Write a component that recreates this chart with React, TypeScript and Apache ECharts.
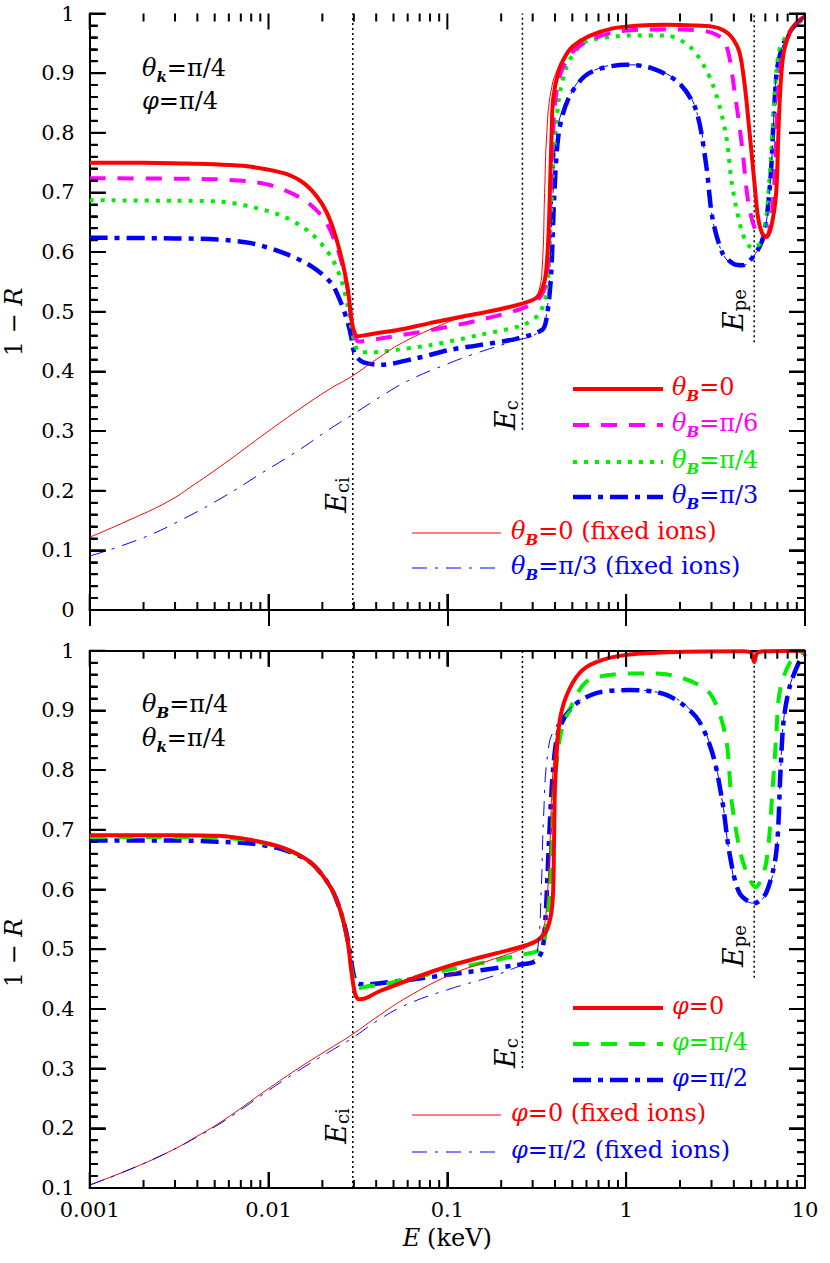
import React, { useEffect, useRef } from "react";
import * as echarts from "echarts";

type P = [number, number];

// ---------- axis scaffolding ----------
const xMin = 0.001;
const xMax = 10;
const topYMin = 0;
const botYMin = 0.1;
const yMax = 1;
const yStep = 0.1;
const majorTickE = [0.001, 0.01, 0.1, 1, 10];
const minorTickE = [
  0.002, 0.003, 0.004, 0.005, 0.006, 0.007, 0.008, 0.009,
  0.02, 0.03, 0.04, 0.05, 0.06, 0.07, 0.08, 0.09,
  0.2, 0.3, 0.4, 0.5, 0.6, 0.7, 0.8, 0.9,
  2, 3, 4, 5, 6, 7, 8, 9,
];
const yMinorStep = 0.02;

// characteristic energies (keV) and the lower ends of their marker lines
const eCi = 0.0296;
const eC = 0.263;
const ePe = 5.2;
const topEcEnd = 0.302;
const topEpeEnd = 0.449;
const botEcEnd = 0.301;
const botEpeEnd = 0.452;

// ---------- top panel (theta_k = pi/4, phi = pi/4) ----------
const topThB0: P[] = [
  [0.001, 0.750], [0.002, 0.750], [0.004, 0.748], [0.006, 0.746], [0.008, 0.743],
  [0.0123, 0.732], [0.015, 0.720], [0.0174, 0.704], [0.020, 0.680], [0.0224, 0.649],
  [0.0255, 0.592], [0.0278, 0.536], [0.029, 0.490], [0.030, 0.468], [0.0315, 0.459],
  [0.0336, 0.460], [0.040, 0.464], [0.052, 0.469], [0.080, 0.481], [0.122, 0.492],
  [0.188, 0.503], [0.265, 0.514], [0.314, 0.523], [0.340, 0.539], [0.356, 0.565],
  [0.368, 0.630], [0.376, 0.720], [0.383, 0.800], [0.39, 0.855], [0.42, 0.905],
  [0.46, 0.930], [0.503, 0.945], [0.62, 0.962], [0.84, 0.975], [1.2, 0.980],
  [1.68, 0.981], [2.4, 0.980], [3.03, 0.978], [3.5, 0.972], [3.9, 0.960],
  [4.3, 0.935], [4.6, 0.880], [4.9, 0.800], [5.2, 0.720], [5.45, 0.660],
  [5.75, 0.632], [6.07, 0.625], [6.5, 0.645], [6.9, 0.700], [7.1, 0.800],
  [7.3, 0.880], [7.6, 0.935], [8.2, 0.968], [9.0, 0.985], [10, 0.995],
];
const topThB30: P[] = [
  [0.001, 0.724], [0.003, 0.723], [0.0052, 0.722], [0.008, 0.718], [0.0108, 0.710],
  [0.0159, 0.687], [0.0206, 0.654], [0.0245, 0.603], [0.0278, 0.536], [0.029, 0.490],
  [0.0305, 0.458], [0.032, 0.450], [0.036, 0.452], [0.042, 0.455], [0.080, 0.469],
  [0.151, 0.486], [0.265, 0.506], [0.327, 0.523], [0.356, 0.548], [0.368, 0.600],
  [0.38, 0.720], [0.39, 0.800], [0.40, 0.850], [0.43, 0.900], [0.50, 0.935],
  [0.62, 0.955], [0.84, 0.968], [1.2, 0.973], [2.0, 0.973], [3.0, 0.968],
  [3.6, 0.950], [4.1, 0.855], [4.47, 0.771], [4.8, 0.687], [5.3, 0.637],
  [6.06, 0.625], [6.5, 0.660], [6.8, 0.740], [7.0, 0.840], [7.3, 0.910],
  [8.0, 0.960], [9.0, 0.985], [10, 0.995],
];
const topThB45: P[] = [
  [0.001, 0.687], [0.003, 0.686], [0.0052, 0.685], [0.008, 0.676], [0.0123, 0.659],
  [0.0174, 0.631], [0.0224, 0.592], [0.0255, 0.553], [0.0278, 0.508], [0.029, 0.475],
  [0.0305, 0.445], [0.032, 0.433], [0.036, 0.432], [0.042, 0.433], [0.080, 0.444],
  [0.151, 0.461], [0.265, 0.478], [0.327, 0.497], [0.36, 0.536], [0.375, 0.620],
  [0.39, 0.740], [0.42, 0.855], [0.47, 0.915], [0.55, 0.945], [0.62, 0.955],
  [1.04, 0.963], [1.68, 0.963], [2.35, 0.940], [3.03, 0.883], [3.6, 0.800],
  [3.9, 0.715], [4.47, 0.632], [5.07, 0.607], [5.8, 0.620], [6.3, 0.715],
  [6.7, 0.838], [7.2, 0.940], [8.5, 0.975], [10, 0.995],
];
const topThB60: P[] = [
  [0.001, 0.624], [0.003, 0.623], [0.0052, 0.621], [0.008, 0.615], [0.0123, 0.598],
  [0.0174, 0.576], [0.0224, 0.548], [0.0255, 0.514], [0.0278, 0.481], [0.029, 0.458],
  [0.0296, 0.440], [0.031, 0.425], [0.034, 0.415], [0.042, 0.411], [0.067, 0.422],
  [0.103, 0.436], [0.151, 0.444], [0.245, 0.455], [0.34, 0.470], [0.36, 0.492],
  [0.38, 0.560], [0.395, 0.687], [0.42, 0.800], [0.48, 0.860], [0.62, 0.900],
  [1.0, 0.914], [1.4, 0.908], [1.98, 0.883], [2.46, 0.838], [2.81, 0.743],
  [3.03, 0.659], [3.46, 0.598], [4.0, 0.580], [4.47, 0.578], [5.3, 0.598],
  [5.9, 0.630], [6.4, 0.720], [6.7, 0.830], [7.0, 0.910], [7.6, 0.950],
  [8.5, 0.975], [10, 0.995],
];
const topThB0Fixed: P[] = [
  [0.001, 0.122], [0.00164, 0.150], [0.00275, 0.182], [0.00387, 0.211], [0.0057, 0.246],
  [0.0091, 0.291], [0.0146, 0.335], [0.0224, 0.372], [0.029, 0.391], [0.040, 0.420],
  [0.056, 0.448], [0.098, 0.481], [0.122, 0.490], [0.188, 0.502], [0.265, 0.513],
  [0.30, 0.520], [0.325, 0.535], [0.34, 0.580], [0.35, 0.700], [0.36, 0.800],
  [0.38, 0.870], [0.42, 0.910], [0.50, 0.940], [0.62, 0.962], [0.84, 0.975],
  [1.2, 0.980], [1.68, 0.981], [2.4, 0.980], [3.03, 0.978], [3.5, 0.972],
  [3.9, 0.960], [4.3, 0.935], [4.6, 0.880], [4.9, 0.800], [5.2, 0.720],
  [5.45, 0.660], [5.75, 0.632], [6.07, 0.625], [6.5, 0.645], [6.9, 0.700],
  [7.1, 0.800], [7.3, 0.880], [7.6, 0.935], [8.2, 0.968], [9.0, 0.985], [10, 0.995],
];
const topThB60Fixed: P[] = [
  [0.001, 0.0905], [0.00195, 0.120], [0.0034, 0.154], [0.0057, 0.191], [0.0091, 0.229],
  [0.0146, 0.267], [0.0224, 0.305], [0.029, 0.326], [0.042, 0.357], [0.060, 0.384],
  [0.103, 0.414], [0.150, 0.432], [0.23, 0.450], [0.327, 0.467], [0.36, 0.500],
  [0.375, 0.580], [0.39, 0.700], [0.41, 0.800], [0.48, 0.860], [0.62, 0.900],
  [1.0, 0.914], [1.4, 0.908], [1.98, 0.883], [2.46, 0.838], [2.81, 0.743],
  [3.03, 0.659], [3.46, 0.598], [4.0, 0.580], [4.47, 0.578], [5.3, 0.598],
  [5.9, 0.630], [6.4, 0.720], [6.7, 0.830], [7.0, 0.910], [7.6, 0.950],
  [8.5, 0.975], [10, 0.995],
];

// ---------- bottom panel (theta_B = pi/4, theta_k = pi/4) ----------
const botPhi0: P[] = [
  [0.001, 0.691], [0.003, 0.691], [0.0052, 0.690], [0.008, 0.683], [0.0123, 0.669],
  [0.0174, 0.644], [0.0224, 0.602], [0.0255, 0.560], [0.0278, 0.510], [0.029, 0.465],
  [0.0305, 0.425], [0.032, 0.416], [0.035, 0.418], [0.042, 0.430], [0.10, 0.471],
  [0.265, 0.505], [0.32, 0.515], [0.36, 0.532], [0.387, 0.577], [0.395, 0.680],
  [0.40, 0.772], [0.42, 0.872], [0.46, 0.922], [0.55, 0.963], [0.68, 0.981],
  [1.0, 0.993], [2.0, 0.998], [4.5, 0.999], [5.0, 0.996], [5.2, 0.981],
  [5.4, 0.996], [6.0, 0.999], [10, 1.0],
];
const botPhi45: P[] = [
  [0.001, 0.688], [0.003, 0.688], [0.0052, 0.687], [0.008, 0.682], [0.0123, 0.668],
  [0.0174, 0.644], [0.0224, 0.602], [0.0255, 0.560], [0.0278, 0.510], [0.029, 0.470],
  [0.0305, 0.440], [0.032, 0.435], [0.036, 0.438], [0.042, 0.440], [0.10, 0.465],
  [0.25, 0.490], [0.33, 0.500], [0.36, 0.540], [0.38, 0.650], [0.40, 0.780],
  [0.43, 0.860], [0.48, 0.900], [0.62, 0.951], [1.3, 0.962], [1.98, 0.956],
  [2.93, 0.929], [3.6, 0.856], [3.9, 0.745], [4.47, 0.649], [5.3, 0.604],
  [6.06, 0.644], [6.6, 0.772], [6.9, 0.856], [7.2, 0.929], [8.2, 0.979], [10, 1.0],
];
const botPhi90: P[] = [
  [0.001, 0.682], [0.003, 0.682], [0.0052, 0.680], [0.008, 0.677], [0.0123, 0.666],
  [0.0174, 0.644], [0.0224, 0.602], [0.0255, 0.560], [0.0278, 0.515], [0.029, 0.480],
  [0.0305, 0.448], [0.032, 0.442], [0.036, 0.441], [0.042, 0.443], [0.10, 0.457],
  [0.25, 0.474], [0.31, 0.480], [0.34, 0.500], [0.355, 0.560], [0.37, 0.680],
  [0.39, 0.800], [0.42, 0.867], [0.50, 0.906], [0.68, 0.929], [1.04, 0.934],
  [1.68, 0.926], [2.46, 0.889], [3.03, 0.829], [3.46, 0.745], [3.78, 0.661],
  [4.3, 0.594], [5.2, 0.577], [6.06, 0.594], [6.9, 0.661], [7.3, 0.800],
  [7.6, 0.884], [8.2, 0.939], [9.2, 0.979], [10, 0.995],
];
const botPhi0Fixed: P[] = [
  [0.001, 0.105], [0.00164, 0.130], [0.00275, 0.160], [0.0039, 0.185], [0.0057, 0.215],
  [0.0091, 0.258], [0.0146, 0.300], [0.0224, 0.335], [0.029, 0.356], [0.042, 0.390],
  [0.060, 0.420], [0.10, 0.455], [0.15, 0.475], [0.25, 0.498], [0.30, 0.510],
  [0.34, 0.530], [0.36, 0.580], [0.375, 0.680], [0.39, 0.800], [0.42, 0.880],
  [0.46, 0.925], [0.55, 0.963], [0.68, 0.981], [1.0, 0.993], [2.0, 0.998],
  [4.5, 0.999], [5.0, 0.996], [5.2, 0.981], [5.4, 0.996], [6.0, 0.999], [10, 1.0],
];
const botPhi90Fixed: P[] = [
  [0.001, 0.105], [0.00164, 0.130], [0.00275, 0.160], [0.0039, 0.184], [0.0057, 0.213],
  [0.0091, 0.255], [0.0146, 0.296], [0.0224, 0.330], [0.029, 0.350], [0.042, 0.383],
  [0.060, 0.408], [0.10, 0.432], [0.18, 0.455], [0.25, 0.471], [0.30, 0.480],
  [0.32, 0.500], [0.335, 0.600], [0.345, 0.720], [0.365, 0.830], [0.40, 0.870],
  [0.50, 0.906], [0.68, 0.929], [1.04, 0.934], [1.68, 0.926], [2.46, 0.889],
  [3.03, 0.829], [3.46, 0.745], [3.78, 0.661], [4.3, 0.594], [5.2, 0.577],
  [6.06, 0.594], [6.9, 0.661], [7.3, 0.800], [7.6, 0.884], [8.2, 0.939],
  [9.2, 0.979], [10, 0.995],
];

// ---------- styles ----------
const FONT = "DejaVu Serif";
const RED = "#ff0000";
const MAGENTA = "#ff00ff";
const GREEN = "#00ee00";
const BLUE = "#0000ff";
const THICK = 4;
const DASH = [16, 12];
const DOT = [4, 7];
const DASHDOT = [18, 7, 5, 7];
const THIN_DASHDOT = [15, 8, 3, 8];
const VDOT = [2, 3];

const G_LEFT = 89.7;
const G_WIDTH = 715.3;
const G0_TOP = 13.5;
const G0_H = 596.5;
const G1_TOP = 650.7;
const G1_H = 537.3;
const MAJOR_PX = 16;
const MINOR_PX = 8;

// one compound tick path per panel, on the same log / linear scales as the grid
function ticksPath(top: number, h: number, lo: number): string {
  const lx0 = Math.log10(xMin);
  const lx1 = Math.log10(xMax);
  const xp = (e: number) => G_LEFT + (G_WIDTH * (Math.log10(e) - lx0)) / (lx1 - lx0);
  const yp = (v: number) => top + h - (h * (v - lo)) / (yMax - lo);
  const bottom = top + h;
  const left = G_LEFT;
  const right = G_LEFT + G_WIDTH;
  const f = (n: number) => n.toFixed(2);
  let d = "";
  const xTick = (e: number, len: number) => {
    const x = xp(e);
    d += `M${f(x)} ${f(bottom)}L${f(x)} ${f(bottom - len)}`;
    d += `M${f(x)} ${f(top)}L${f(x)} ${f(top + len)}`;
  };
  majorTickE.forEach((e) => xTick(e, MAJOR_PX));
  minorTickE.forEach((e) => xTick(e, MINOR_PX));
  const n = Math.round((yMax - lo) / yMinorStep);
  const per = Math.round(yStep / yMinorStep);
  for (let k = 0; k <= n; k++) {
    const y = yp(lo + k * yMinorStep);
    const len = k % per === 0 ? MAJOR_PX : MINOR_PX;
    d += `M${f(left)} ${f(y)}L${f(left + len)} ${f(y)}`;
    d += `M${f(right)} ${f(y)}L${f(right - len)} ${f(y)}`;
  }
  return d;
}

echarts.graphic.registerShape("ticksTopPanel", echarts.graphic.extendPath(ticksPath(G0_TOP, G0_H, topYMin), {}) as any);
echarts.graphic.registerShape("ticksBottomPanel", echarts.graphic.extendPath(ticksPath(G1_TOP, G1_H, botYMin), {}) as any);

function rich(color: string, size = 24, sub = 15) {
  return {
    i: { fill: color, fontFamily: FONT, fontStyle: "italic", fontSize: size, lineHeight: 28, verticalAlign: "top" },
    n: { fill: color, fontFamily: FONT, fontSize: size, lineHeight: 28, verticalAlign: "top" },
    s: { fill: color, fontFamily: FONT, fontStyle: "italic", fontWeight: "bold", fontSize: sub, lineHeight: sub + 1, verticalAlign: "bottom" },
    u: { fill: color, fontFamily: FONT, fontSize: sub, lineHeight: sub + 1, verticalAlign: "bottom" },
  };
}

function label(text: string, color: string, x: number, y: number, size = 24): any {
  return {
    type: "text",
    x,
    y,
    silent: true,
    style: { text, rich: rich(color, size), align: "left", verticalAlign: "middle", fill: color },
  };
}

function vlabel(text: string, x: number, y: number): any {
  return {
    type: "text",
    x,
    y,
    rotation: Math.PI / 2,
    silent: true,
    style: { text, rich: rich("#000", 27, 18), align: "center", verticalAlign: "middle", fill: "#000" },
  };
}

function seg(x1: number, y1: number, x2: number, y2: number, color: string, width: number, dash: number[] | null = null): any {
  const style: any = { stroke: color, lineWidth: width };
  if (dash) style.lineDash = dash;
  return { type: "line", silent: true, z: 50, shape: { x1, y1, x2, y2 }, style };
}

function lineSeries(data: P[], xi: number, yi: number, color: string, width: number, dash: number[] | "solid", z: number, smooth = 0.3): any {
  return {
    type: "line",
    xAxisIndex: xi,
    yAxisIndex: yi,
    data,
    showSymbol: false,
    symbol: "none",
    smooth,
    z,
    silent: true,
    lineStyle: { color, width, type: dash },
  };
}

function vline(e: number, lo: number, hi: number, xi: number, yi: number): any {
  return {
    type: "line",
    xAxisIndex: xi,
    yAxisIndex: yi,
    data: [[e, lo], [e, hi]],
    showSymbol: false,
    symbol: "none",
    z: 1,
    silent: true,
    lineStyle: { color: "#000", width: 1.5, type: VDOT },
  };
}

const fmt = (v: number) => String(parseFloat(Number(v).toPrecision(6)));

function xAxis(gridIndex: number, position: "top" | "bottom", showLabel: boolean, name?: any): any {
  return {
    type: "log",
    gridIndex,
    position,
    min: xMin,
    max: xMax,
    axisLine: { show: true, lineStyle: { color: "#000", width: 2 } },
    axisTick: { show: true, inside: true, length: MAJOR_PX, lineStyle: { color: "#000", width: 2 } },
    splitLine: { show: false },
    axisLabel: { show: showLabel, margin: 11, color: "#000", fontFamily: FONT, fontSize: 21, formatter: fmt },
    ...(name || {}),
  };
}

function yAxis(gridIndex: number, position: "left" | "right", min: number, showLabel: boolean): any {
  return {
    type: "value",
    gridIndex,
    position,
    min,
    max: yMax,
    interval: yStep,
    axisLine: { show: true, lineStyle: { color: "#000", width: 2 } },
    axisTick: { show: true, inside: true, length: MAJOR_PX, lineStyle: { color: "#000", width: 2 } },
    minorTick: { show: true, splitNumber: 5, length: MINOR_PX, lineStyle: { color: "#000", width: 2 } },
    splitLine: { show: false },
    axisLabel: { show: showLabel, margin: 15, color: "#000", fontFamily: FONT, fontSize: 21, formatter: fmt },
  };
}

export default function App() {
  const ref = useRef<HTMLDivElement>(null);

  useEffect(() => {
    document.body.style.margin = "0";
    if (!ref.current) return;
    const chart = echarts.init(ref.current, undefined, { renderer: "svg" });

    const xName = {
      name: "{i|E}  {n|(keV)}",
      nameLocation: "middle",
      nameGap: 38,
      nameTextStyle: {
        rich: {
          i: { fontFamily: FONT, fontStyle: "italic", fontSize: 24, color: "#000" },
          n: { fontFamily: FONT, fontSize: 24, color: "#000" },
        },
      },
    };

    const tickStyle = { stroke: "#000", lineWidth: 2, fill: "none" };

    const graphics: any[] = [
      { type: "ticksTopPanel", x: 0, y: 0, z: 60, silent: true, style: tickStyle },
      { type: "ticksBottomPanel", x: 0, y: 0, z: 60, silent: true, style: tickStyle },
      {
        type: "text", x: 16, y: 322, rotation: Math.PI / 2, silent: true,
        style: { text: "{n|1 − }{i|R}", rich: rich("#000", 24), align: "center", verticalAlign: "middle" },
      },
      {
        type: "text", x: 16, y: 953, rotation: Math.PI / 2, silent: true,
        style: { text: "{n|1 − }{i|R}", rich: rich("#000", 24), align: "center", verticalAlign: "middle" },
      },
      label("{i|θ}{s|k}{n|=π/4}", "#000", 142, 70),
      label("{i|φ}{n|=π/4}", "#000", 142, 103),
      label("{i|θ}{s|B}{n|=π/4}", "#000", 142, 706),
      label("{i|θ}{s|k}{n|=π/4}", "#000", 142, 740),
      vlabel("{i|E}{u|ci}", 337, 495),
      vlabel("{i|E}{u|c}", 506, 415),
      vlabel("{i|E}{u|pe}", 734, 310),
      vlabel("{i|E}{u|ci}", 337, 1126),
      vlabel("{i|E}{u|c}", 506, 1053),
      vlabel("{i|E}{u|pe}", 734, 946),
      seg(573, 389, 663, 389, RED, THICK),
      label("{i|θ}{s|B}{n|=0}", RED, 672, 389),
      seg(573, 425, 663, 425, MAGENTA, THICK, DASH),
      label("{i|θ}{s|B}{n|=π/6}", MAGENTA, 672, 425),
      seg(573, 462, 663, 462, GREEN, THICK, DOT),
      label("{i|θ}{s|B}{n|=π/4}", GREEN, 672, 462),
      seg(573, 497, 663, 497, BLUE, THICK + 0.5, DASHDOT),
      label("{i|θ}{s|B}{n|=π/3}", BLUE, 672, 497),
      seg(412, 533, 501, 533, RED, 1),
      label("{i|θ}{s|B}{n|=0 (fixed ions)}", RED, 511, 533),
      seg(412, 568, 501, 568, BLUE, 1, THIN_DASHDOT),
      label("{i|θ}{s|B}{n|=π/3 (fixed ions)}", BLUE, 511, 568),
      seg(573, 1008, 663, 1008, RED, THICK),
      label("{i|φ}{n|=0}", RED, 672, 1008),
      seg(573, 1044, 663, 1044, GREEN, THICK, DASH),
      label("{i|φ}{n|=π/4}", GREEN, 672, 1044),
      seg(573, 1080, 663, 1080, BLUE, THICK + 0.5, DASHDOT),
      label("{i|φ}{n|=π/2}", BLUE, 672, 1080),
      seg(412, 1115, 501, 1115, RED, 1),
      label("{i|φ}{n|=0 (fixed ions)}", RED, 511, 1115),
      seg(412, 1152, 501, 1152, BLUE, 1, THIN_DASHDOT),
      label("{i|φ}{n|=π/2 (fixed ions)}", BLUE, 511, 1152),
    ];

    chart.setOption({
      animation: false,
      grid: [
        { left: G_LEFT, top: G0_TOP, width: G_WIDTH, height: G0_H },
        { left: G_LEFT, top: G1_TOP, width: G_WIDTH, height: G1_H },
      ],
      xAxis: [
        xAxis(0, "bottom", false),
        xAxis(0, "top", false),
        xAxis(1, "bottom", true, xName),
        xAxis(1, "top", false),
      ],
      yAxis: [
        yAxis(0, "left", topYMin, true),
        yAxis(0, "right", topYMin, false),
        yAxis(1, "left", botYMin, true),
        yAxis(1, "right", botYMin, false),
      ],
      series: [
        vline(eCi, topYMin, yMax, 0, 0),
        vline(eC, topEcEnd, yMax, 0, 0),
        vline(ePe, topEpeEnd, yMax, 0, 0),
        vline(eCi, botYMin, yMax, 2, 2),
        vline(eC, botEcEnd, yMax, 2, 2),
        vline(ePe, botEpeEnd, yMax, 2, 2),
        lineSeries(topThB60, 0, 0, BLUE, THICK + 0.5, DASHDOT, 3),
        lineSeries(topThB45, 0, 0, GREEN, THICK, DOT, 4),
        lineSeries(topThB30, 0, 0, MAGENTA, THICK, DASH, 5),
        lineSeries(topThB0, 0, 0, RED, THICK, "solid", 6),
        lineSeries(topThB0Fixed, 0, 0, RED, 1, "solid", 7, 0.45),
        lineSeries(topThB60Fixed, 0, 0, BLUE, 1, THIN_DASHDOT, 8, 0.45),
        lineSeries(botPhi90, 2, 2, BLUE, THICK + 0.5, DASHDOT, 3),
        lineSeries(botPhi45, 2, 2, GREEN, THICK, DASH, 4),
        lineSeries(botPhi0, 2, 2, RED, THICK, "solid", 5),
        lineSeries(botPhi0Fixed, 2, 2, RED, 1, "solid", 7, 0.45),
        lineSeries(botPhi90Fixed, 2, 2, BLUE, 1, THIN_DASHDOT, 8, 0.45),
      ],
      graphic: graphics,
    });
    return () => chart.dispose();
  }, []);

  return <div ref={ref} style={{ width: 830, height: 1263 }} />;
}
